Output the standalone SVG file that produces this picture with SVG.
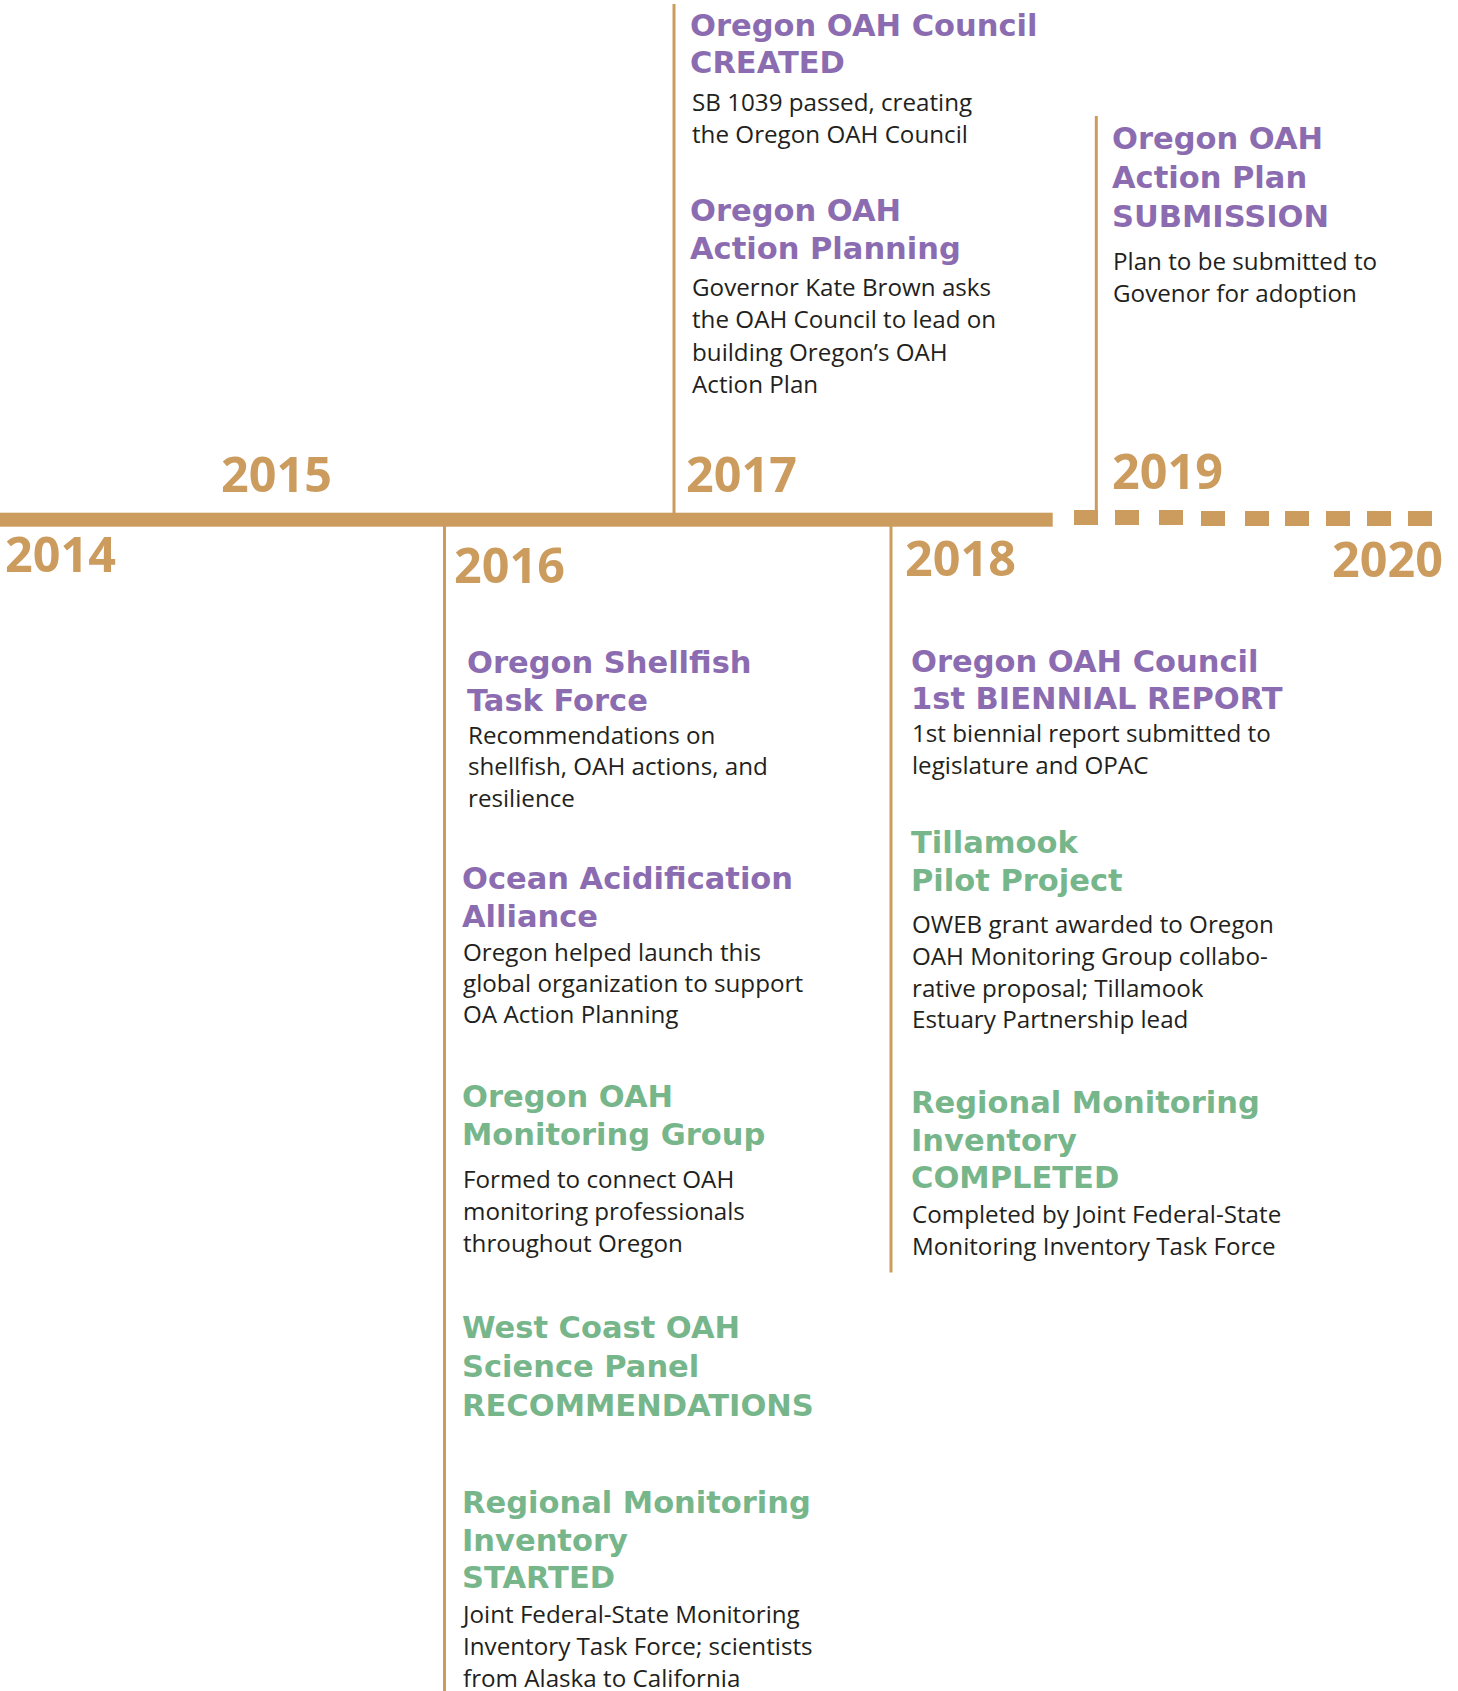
<svg xmlns="http://www.w3.org/2000/svg" width="1458" height="1691" viewBox="0 0 1458 1691">
  <style>
    .year { font-family: "Open Sans", "Liberation Sans", sans-serif; font-weight: 700; font-size: 48.5px; fill: #CC9C5E; }
    .head { font-family: "DejaVu Sans", "Liberation Sans", sans-serif; font-weight: 700; font-size: 30.5px; }
    .purple { fill: #8C6CB1; }
    .green { fill: #76B68A; }
    .body { font-family: "Open Sans", "Liberation Sans", sans-serif; font-size: 24.2px; fill: #231F20; }
    .tick { stroke: #CC9C5E; stroke-width: 3; fill: none; }
    .axis { fill: #CC9C5E; }
  </style>

  <rect width="1458" height="1691" fill="#FFFFFF"/>

  <!-- timeline axis: solid bar, then dashed future segment -->
  <g id="connectors">
    <rect class="axis" x="0" y="512.7" width="1052.7" height="14"/>
    <rect class="axis" x="1074" y="510" width="24" height="15"/>
    <rect class="axis" x="1115" y="510" width="24" height="15"/>
    <rect class="axis" x="1159" y="510" width="24" height="15"/>
    <rect class="axis" x="1201" y="511" width="24" height="15"/>
    <rect class="axis" x="1245" y="511" width="24" height="15"/>
    <rect class="axis" x="1285" y="511" width="24" height="15"/>
    <rect class="axis" x="1326" y="511" width="24" height="15"/>
    <rect class="axis" x="1367" y="511" width="24" height="15"/>
    <rect class="axis" x="1408" y="511" width="24" height="15"/>
    <!-- year tick lines -->
    <line class="tick" x1="674" y1="4" x2="674" y2="513"/>
    <line class="tick" x1="1096.3" y1="116" x2="1096.3" y2="511"/>
    <line class="tick" x1="444.5" y1="526" x2="444.5" y2="1691"/>
    <line class="tick" x1="891" y1="526" x2="891" y2="1272.5"/>
  </g>

  <!-- year labels -->
  <g id="years">
    <text class="year" x="221" y="492">2015</text>
    <text class="year" x="686" y="492">2017</text>
    <text class="year" x="1112" y="488.5">2019</text>
    <text class="year" x="5" y="572">2014</text>
    <text class="year" x="454" y="583">2016</text>
    <text class="year" x="905" y="576">2018</text>
    <text class="year" x="1443" y="577" text-anchor="end">2020</text>
  </g>

  <!-- 2017 events -->
  <g id="council-created">
    <text class="head purple" x="690" y="36">Oregon OAH Council</text>
    <text class="head purple" x="690" y="73.3">CREATED</text>
    <text class="body" x="692" y="111">SB 1039 passed, creating</text>
    <text class="body" x="692" y="142.7">the Oregon OAH Council</text>
  </g>
  <g id="action-planning">
    <text class="head purple" x="690" y="220.7">Oregon OAH</text>
    <text class="head purple" x="690" y="259.3">Action Planning</text>
    <text class="body" x="692" y="296">Governor Kate Brown asks</text>
    <text class="body" x="692" y="328.3">the OAH Council to lead on</text>
    <text class="body" x="692" y="361">building Oregon’s OAH</text>
    <text class="body" x="692" y="392.7">Action Plan</text>
  </g>

  <!-- 2019 event -->
  <g id="plan-submission">
    <text class="head purple" x="1112" y="149.3">Oregon OAH</text>
    <text class="head purple" x="1112" y="188.3">Action Plan</text>
    <text class="head purple" x="1112" y="226.7">SUBMISSION</text>
    <text class="body" x="1113" y="270">Plan to be submitted to</text>
    <text class="body" x="1113" y="301.7">Govenor for adoption</text>
  </g>

  <!-- 2016 events -->
  <g id="shellfish-task-force">
    <text class="head purple" x="467" y="673.3">Oregon Shellfish</text>
    <text class="head purple" x="467" y="710.7">Task Force</text>
    <text class="body" x="468" y="744">Recommendations on</text>
    <text class="body" x="468" y="775.3">shellfish, OAH actions, and</text>
    <text class="body" x="468" y="806.7">resilience</text>
  </g>
  <g id="oa-alliance">
    <text class="head purple" x="462" y="888.7">Ocean Acidification</text>
    <text class="head purple" x="462" y="926.7">Alliance</text>
    <text class="body" x="463" y="960.7">Oregon helped launch this</text>
    <text class="body" x="463" y="991.7">global organization to support</text>
    <text class="body" x="463" y="1023.3">OA Action Planning</text>
  </g>
  <g id="monitoring-group">
    <text class="head green" x="462" y="1106.7">Oregon OAH</text>
    <text class="head green" x="462" y="1145">Monitoring Group</text>
    <text class="body" x="463" y="1188.3">Formed to connect OAH</text>
    <text class="body" x="463" y="1220">monitoring professionals</text>
    <text class="body" x="463" y="1252.3">throughout Oregon</text>
  </g>
  <g id="science-panel">
    <text class="head green" x="462" y="1338.3">West Coast OAH</text>
    <text class="head green" x="462" y="1376.7">Science Panel</text>
    <text class="head green" x="462" y="1416">RECOMMENDATIONS</text>
  </g>
  <g id="inventory-started">
    <text class="head green" x="462" y="1513.3">Regional Monitoring</text>
    <text class="head green" x="462" y="1550.7">Inventory</text>
    <text class="head green" x="462" y="1588.3">STARTED</text>
    <text class="body" x="463" y="1623.3">Joint Federal-State Monitoring</text>
    <text class="body" x="463" y="1655">Inventory Task Force; scientists</text>
    <text class="body" x="463" y="1686.7">from Alaska to California</text>
  </g>

  <!-- 2018 events -->
  <g id="biennial-report">
    <text class="head purple" x="911" y="672.3">Oregon OAH Council</text>
    <text class="head purple" x="911" y="709.3">1st BIENNIAL REPORT</text>
    <text class="body" x="912" y="742.3">1st biennial report submitted to</text>
    <text class="body" x="912" y="774">legislature and OPAC</text>
  </g>
  <g id="tillamook-pilot">
    <text class="head green" x="911" y="853.3">Tillamook</text>
    <text class="head green" x="911" y="890.7">Pilot Project</text>
    <text class="body" x="912" y="933.3">OWEB grant awarded to Oregon</text>
    <text class="body" x="912" y="965">OAH Monitoring Group collabo-</text>
    <text class="body" x="912" y="996.7">rative proposal; Tillamook</text>
    <text class="body" x="912" y="1028.3">Estuary Partnership lead</text>
  </g>
  <g id="inventory-completed">
    <text class="head green" x="911" y="1112.7">Regional Monitoring</text>
    <text class="head green" x="911" y="1150.7">Inventory</text>
    <text class="head green" x="911" y="1188.3">COMPLETED</text>
    <text class="body" x="912" y="1223.3">Completed by Joint Federal-State</text>
    <text class="body" x="912" y="1255">Monitoring Inventory Task Force</text>
  </g>
</svg>
